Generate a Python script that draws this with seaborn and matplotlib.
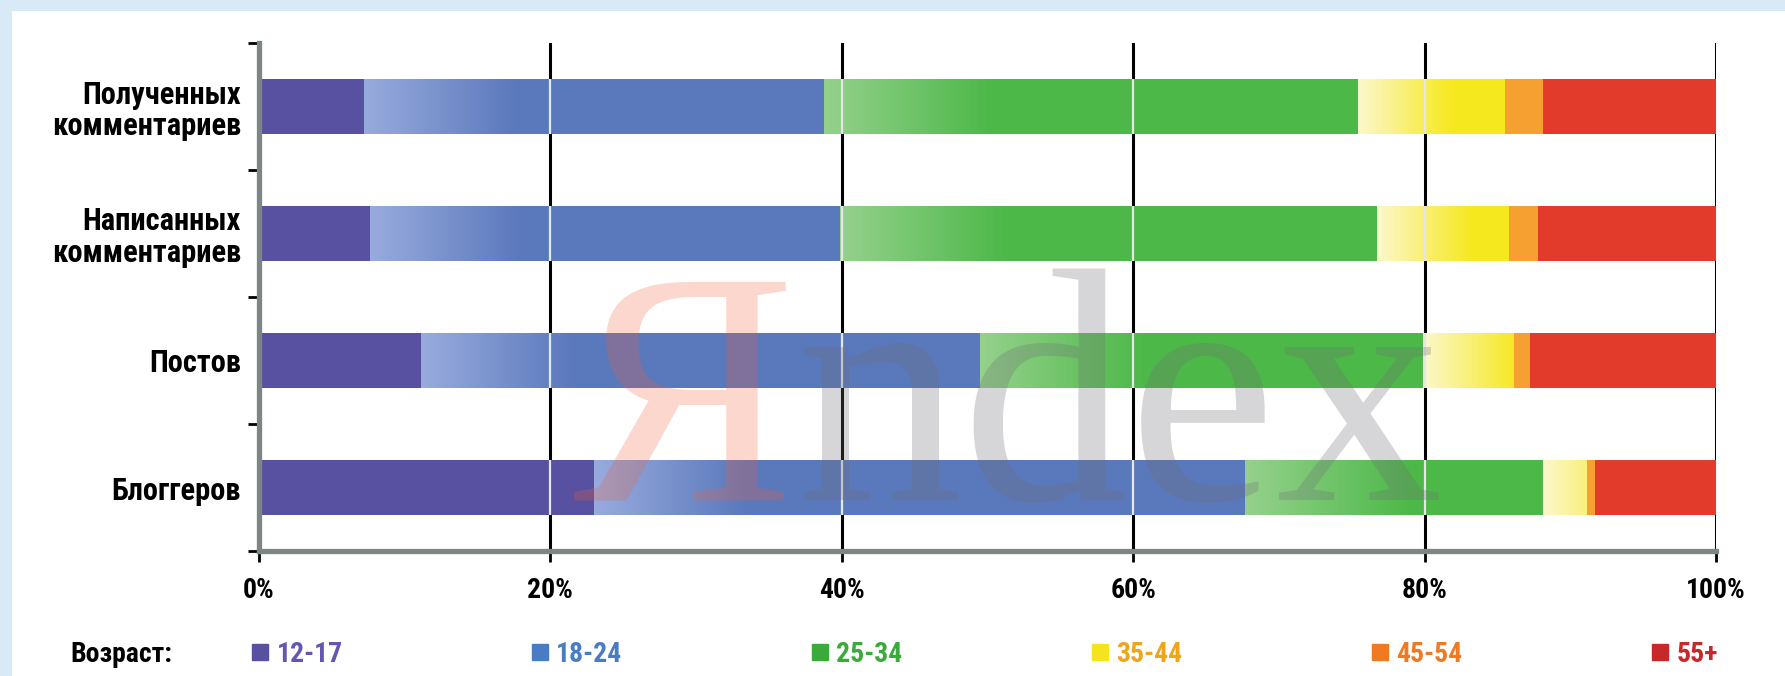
import numpy as np
import matplotlib
matplotlib.use("Agg")
import matplotlib.pyplot as plt
from matplotlib import font_manager as fm
from matplotlib.lines import Line2D
from matplotlib.patches import Rectangle
from matplotlib.colors import to_rgb
import seaborn as sns

# ---------------- data ----------------
categories = ["Полученных\nкомментариев", "Написанных\nкомментариев", "Постов", "Блоггеров"]
age_groups = ["12-17", "18-24", "25-34", "35-44", "45-54", "55+"]
v_12_17 = [7.2, 7.6, 11.1, 23.0]
v_18_24 = [31.6, 32.3, 38.4, 44.7]
v_25_34 = [36.6, 36.8, 30.4, 20.4]
v_35_44 = [10.1, 9.1, 6.2, 3.0]
v_45_54 = [2.6, 2.0, 1.1, 0.6]
v_55_plus = [11.9, 12.2, 12.8, 8.3]
xtick_values = [0, 20, 40, 60, 80, 100]
xtick_labels = ["0%", "20%", "40%", "60%", "80%", "100%"]
legend_title = "Возраст:"
watermark_a, watermark_b = "Я", "ndex"

# ---------------- style ----------------
bar_colors = ["#5850a0", "#5a78bc", "#4cb848", "#f6e81e", "#f5a030", "#e23b2b"]
grad_start = {1: "#98abdd", 2: "#95d18c", 3: "#fcf8cc"}
grad_len = {1: 10.5, 2: 11.5, 3: 6.5}
legend_marker_colors = ["#5850a0", "#4a7cc4", "#3aaa3a", "#f4e41c", "#f07a22", "#c8282a"]
legend_text_colors = ["#6656b4", "#4a7cc4", "#3aaa3a", "#f0a41c", "#f07a22", "#c8282a"]

sns.set_theme(style="white")
avail = {f.name for f in fm.fontManager.ttflist}
narrow = next((n for n in ["Liberation Sans Narrow", "Arial Narrow", "Roboto Condensed",
                           "Open Sans Condensed"] if n in avail), None)
if narrow is None:
    narrow = "DejaVu Sans"
    S = 0.72
else:
    S = 1.0
plt.rcParams["font.family"] = [narrow, "DejaVu Sans"]

W, H = 1785, 676
fig = plt.figure(figsize=(W / 100, H / 100), dpi=100, facecolor="#d9eaf7")
fig.patches.append(Rectangle((12 / W, 0), 1, 1 - 11 / H, transform=fig.transFigure,
                             facecolor="white", edgecolor="none", zorder=-10))

ax = fig.add_axes([259 / W, 1 - 551 / H, (1716 - 259) / W, (551 - 43) / H])
ax.set_facecolor("none")

BAR_H = 0.44
series = [v_12_17, v_18_24, v_25_34, v_35_44, v_45_54, v_55_plus]
vals = np.array(series, dtype=float)
cum = np.cumsum(vals, axis=0)

bar_patches = {}
for k in reversed(range(len(age_groups))):
    before = len(ax.patches)
    sns.barplot(x=cum[k], y=categories, order=categories, orient="h",
                color=bar_colors[k], saturation=1, width=BAR_H, errorbar=None,
                linewidth=0, ax=ax, zorder=1)
    bar_patches[k] = list(ax.patches)[before:]

# gradients at the start of some segments
for k in (1, 2, 3):
    c0 = np.array(to_rgb(grad_start[k]))
    c1 = np.array(to_rgb(bar_colors[k]))
    for i in range(len(categories)):
        x0 = cum[k - 1][i]
        w = vals[k][i]
        gl = min(grad_len[k], w)
        t = np.linspace(0, gl / grad_len[k], 200)
        img = (c0[None, :] * (1 - t[:, None]) + c1[None, :] * t[:, None])[None, :, :]
        im = ax.imshow(img, extent=(x0, x0 + gl, i + BAR_H / 2 + 0.02, i - BAR_H / 2 - 0.02),
                       aspect="auto", interpolation="bilinear", zorder=1.5)
        im.set_clip_path(bar_patches[k][i])

# grid
ax.set_axisbelow(True)
ax.xaxis.grid(True, color="black", linewidth=2.2)
ax.yaxis.grid(False)
for i in range(len(categories)):
    ax.vlines(xtick_values[1:-1], i - BAR_H / 2, i + BAR_H / 2,
              colors="#e6e6e6", linewidth=1.6, zorder=2)

ax.set_xlim(0, 100)
ax.set_ylim(len(categories) - 0.5, -0.5)
ax.set_xlabel("")
ax.set_ylabel("")

for side in ("top", "right"):
    ax.spines[side].set_visible(False)
for side in ("left", "bottom"):
    ax.spines[side].set_color("#7d8585")
    ax.spines[side].set_linewidth(3.8)
    ax.spines[side].set_zorder(2.6)

ax.set_xticks(xtick_values, xtick_labels)
ax.tick_params(axis="x", length=8, width=2, color="black", pad=11,
               labelsize=20 * S, labelcolor="black", bottom=True)
ax.set_yticks(range(len(categories)), categories)
ax.set_yticks(np.arange(-0.5, len(categories)), minor=True)
ax.tick_params(axis="y", which="major", length=0, pad=13, labelsize=22 * S,
               labelcolor="black", left=True)
ax.tick_params(axis="y", which="minor", length=8, width=2, color="black", left=True)
for lab in ax.get_xticklabels() + ax.get_yticklabels():
    lab.set_fontweight("bold")
for lab in ax.get_yticklabels():
    lab.set_linespacing(1.05)

# legend
handles = [Line2D([], [], marker="s", linestyle="none", markersize=12,
                  markerfacecolor=c, markeredgecolor=c) for c in legend_marker_colors]
fig.legend(handles, age_groups, loc="center left",
           bbox_to_anchor=(250 / W, 1 - 654 / H, (1718 - 250) / W, 0),
           mode="expand", ncol=6, frameon=False, handlelength=0.7,
           handletextpad=0.25, borderpad=0, borderaxespad=0,
           prop={"weight": "bold", "size": 20 * S}, labelcolor=legend_text_colors)
fig.text(70 / W, 1 - 654 / H, legend_title, ha="left", va="center",
         fontsize=20 * S, fontweight="bold", color="black")

# watermark
fig.text(795 / W, 1 - 500 / H, watermark_a, ha="right", va="baseline", fontsize=240,
         family=["Liberation Serif", "DejaVu Serif"], color="#f0603a", alpha=0.25, zorder=5)
fig.text(795 / W, 1 - 500 / H, watermark_b, ha="left", va="baseline", fontsize=240,
         family=["Liberation Serif", "DejaVu Serif"], color="#6e6e73", alpha=0.28, zorder=5)

fig.savefig("out.png", dpi=100, facecolor=fig.get_facecolor())
